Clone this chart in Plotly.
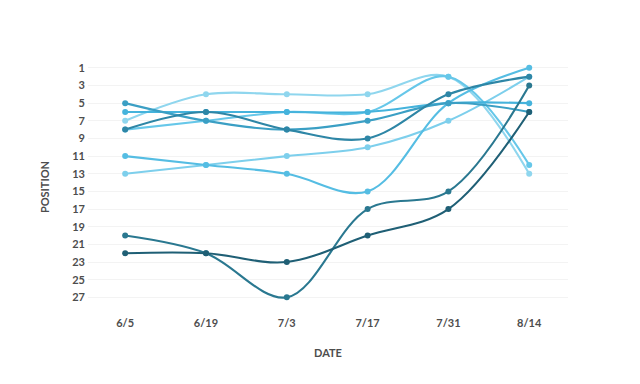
import plotly.graph_objects as go

dates = ["6/5", "6/19", "7/3", "7/17", "7/31", "8/14"]

s_c = [7, 4, 4, 4, 2, 13]
s_e = [8, 7, 6, 6, 2, 12]
s_f = [11, 12, 13, 15, 5, 1]
s_g = [13, 12, 11, 10, 7, 2]
s_b = [6, 6, 6, 6, 5, 5]
s_a = [5, 7, 8, 7, 5, 6]
s_d = [8, 6, 8, 9, 4, 2]
s_B = [20, 22, 27, 17, 15, 3]
s_A = [22, 22, 23, 20, 17, 6]

series = [s_c, s_g, s_e, s_f, s_b, s_a, s_d, s_B, s_A]
colors = ["#8fd6ee", "#7dcfec", "#66c7e9", "#55bde3", "#45b3dc",
          "#3b9fc4", "#2e86a6", "#2a7890", "#1f5f75"]

xs = list(range(len(dates)))
fig = go.Figure()
for vals, col in zip(series, colors):
    fig.add_trace(go.Scatter(
        x=xs, y=vals, mode="lines+markers",
        line=dict(color=col, width=2.1, shape="spline", smoothing=1.0),
        marker=dict(color=col, size=6),
        hoverinfo="skip", showlegend=False))

tick_font = dict(family="Lato", size=11, color="#4d4d4d", weight="bold")
fig.update_layout(
    width=640, height=384,
    margin=dict(l=80, r=80, t=51, b=77),
    paper_bgcolor="white", plot_bgcolor="white",
    xaxis=dict(range=[-0.46, 5.48], tickvals=xs, ticktext=dates,
               showgrid=False, zeroline=False, showline=False,
               tickfont=tick_font, ticks="", ticklabelstandoff=0,
               title=dict(text="DATE", font=tick_font, standoff=21)),
    yaxis=dict(range=[29, 0], tickmode="array",
               tickvals=list(range(1, 28, 2)),
               showgrid=True, gridcolor="#f3f3f3", gridwidth=1,
               zeroline=False, showline=False, ticks="",
               tickfont=tick_font, ticklabelstandoff=2,
               title=dict(text="POSITION", font=tick_font, standoff=20)),
)
fig.write_html("out.html")
